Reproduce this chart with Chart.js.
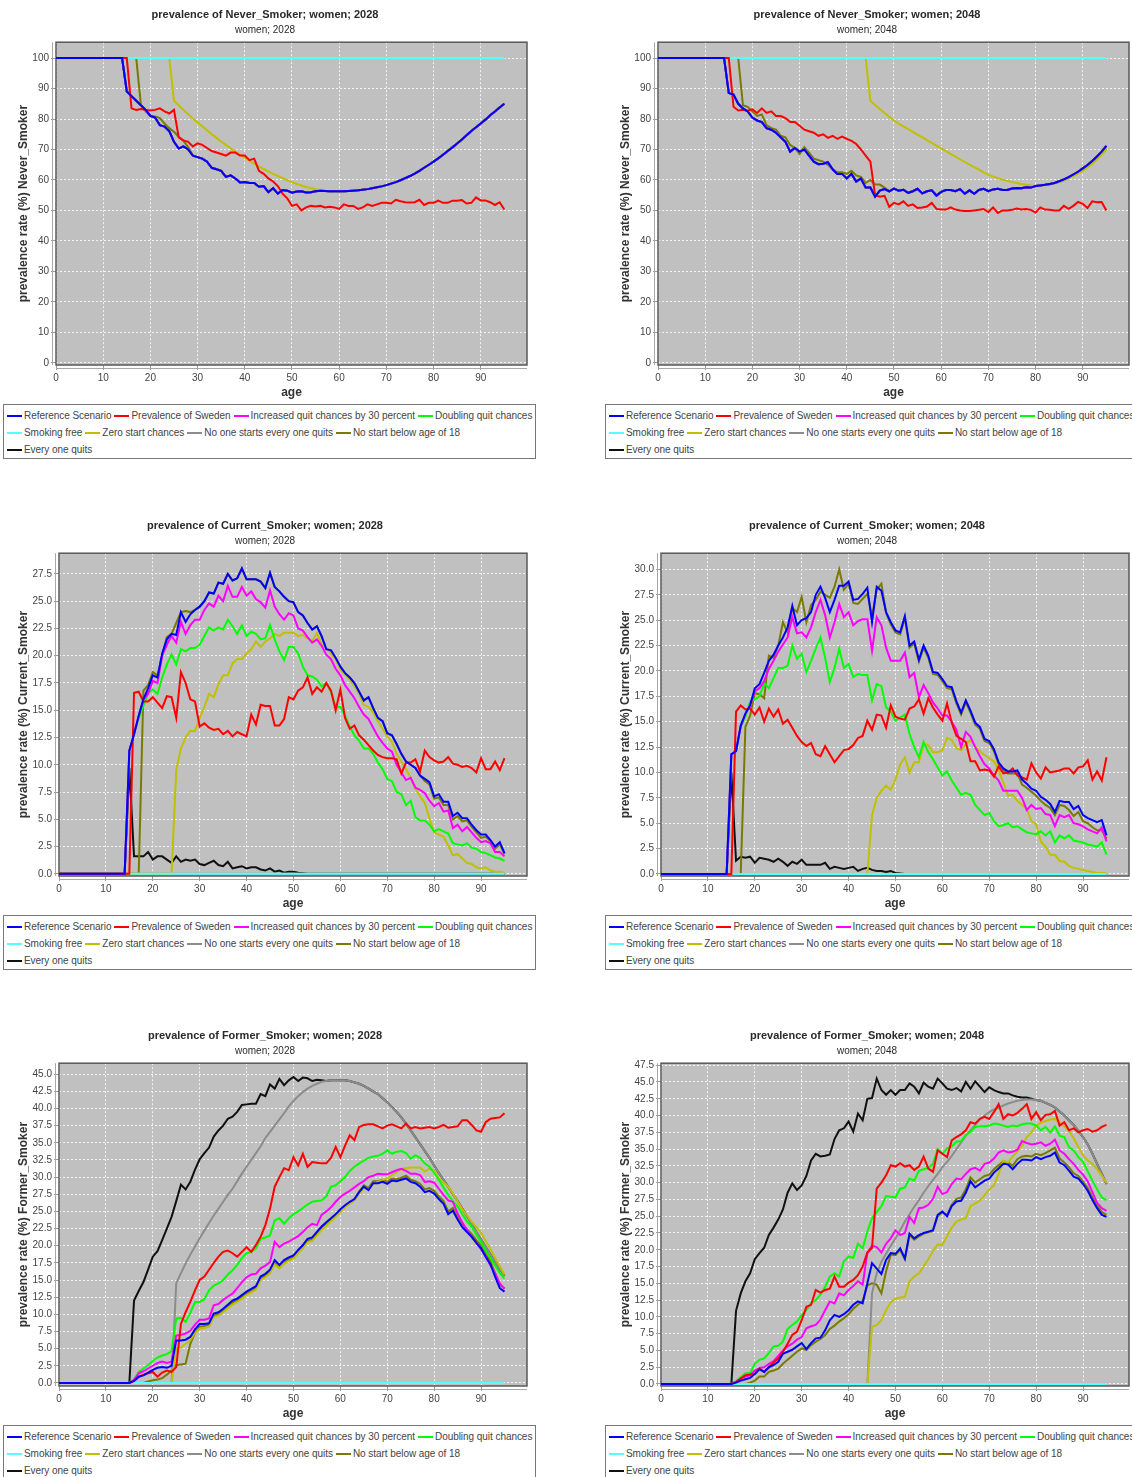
<!DOCTYPE html>
<html>
<head>
<meta charset="utf-8">
<title>Smoking prevalence scenarios, women</title>
<script src="https://cdn.jsdelivr.net/npm/chart.js@4.4.1/dist/chart.umd.min.js"></script>
<style>
  body { margin: 0; width: 1132px; height: 1477px; overflow: hidden; background: #fff; position: relative;
         font-family: "Liberation Sans", Arial, sans-serif; }
  .panel { position: absolute; width: 540px; height: 462px; }
  .panel canvas { position: absolute; left: 0; top: 0; }
  .legend { position: absolute; left: 3px; top: 404px; width: 533px; height: 55px; box-sizing: border-box;
            border: 1px solid #777; padding: 2px 0 0 3px; font-size: 10px; letter-spacing: -0.05px;
            color: #444; overflow: hidden; }
  .legend .row { height: 17px; line-height: 17px; white-space: nowrap; }
  .legend .item { display: inline-block; margin-right: 3px; }
  .legend .swatch { display: inline-block; width: 15px; height: 2px; vertical-align: middle; margin-right: 2px; }
</style>
</head>
<body>
<script>
// ---- data: one value per age 0..95 ----
const ages = [
  0,1,2,3,4,5,6,7,8,9, 10,11,12,13,14,15,16,17,18,19,
  20,21,22,23,24,25,26,27,28,29, 30,31,32,33,34,35,36,37,38,39,
  40,41,42,43,44,45,46,47,48,49, 50,51,52,53,54,55,56,57,58,59,
  60,61,62,63,64,65,66,67,68,69, 70,71,72,73,74,75,76,77,78,79,
  80,81,82,83,84,85,86,87,88,89, 90,91,92,93,94,95
];

const seriesNames = [
  'Reference Scenario', 'Prevalence of Sweden', 'Increased quit chances by 30 percent',
  'Doubling quit chances', 'Smoking free', 'Zero start chances',
  'No one starts every one quits', 'No start below age of 18', 'Every one quits'
];
const seriesColors = ['#0000ff', '#ff0000', '#ff00ff', '#00ff00', '#55ffff', '#c0c000', '#8c8c8c', '#7a7a00', '#101010'];

const xTicks = [0, 10, 20, 30, 40, 50, 60, 70, 80, 90];

const allHundred = [
  100,100,100,100,100,100,100,100,100,100, 100,100,100,100,100,100,100,100,100,100,
  100,100,100,100,100,100,100,100,100,100, 100,100,100,100,100,100,100,100,100,100,
  100,100,100,100,100,100,100,100,100,100, 100,100,100,100,100,100,100,100,100,100,
  100,100,100,100,100,100,100,100,100,100, 100,100,100,100,100,100,100,100,100,100,
  100,100,100,100,100,100,100,100,100,100, 100,100,100,100,100,100
];
const allZero = [
  0,0,0,0,0,0,0,0,0,0, 0,0,0,0,0,0,0,0,0,0, 0,0,0,0,0,0,0,0,0,0, 0,0,0,0,0,0,0,0,0,0,
  0,0,0,0,0,0,0,0,0,0, 0,0,0,0,0,0,0,0,0,0, 0,0,0,0,0,0,0,0,0,0, 0,0,0,0,0,0,0,0,0,0,
  0,0,0,0,0,0,0,0,0,0, 0,0,0,0,0,0
];

// Never smokers, 2028
const nev28Ref = [
  100,100,100,100,100,100,100,100,100,100,
  100,100,100,100,100,89,87.5,86,84.5,83,
  81,80.5,78,77.5,76,72.5,70.3,71,70,68,
  67.5,67,66,64,63.5,63,61,61.5,60.5,59.2,
  59.3,59,59,57.8,58,56,57.3,55.5,56.7,56.5,
  55.8,56.2,56.3,55.9,56,56.3,56.5,56.4,56.3,56.3,
  56.3,56.3,56.4,56.5,56.6,56.8,57,57.3,57.6,57.9,
  58.3,58.8,59.3,59.9,60.6,61.3,62.1,63,64,65,
  66,67.1,68.3,69.5,70.7,72,73.3,74.7,76.1,77.3,
  78.5,79.8,81.2,82.5,83.8,85
];
const nev28Swe = [
  100,100,100,100,100,100,100,100,100,100,
  100,100,100,100,100,100,83.5,83,83.3,83,
  82.8,83,83.5,82.5,81.8,83,74,73,72.5,71,
  72,71.5,70.5,69.5,69,68.5,68,69,69,68,
  68,66.5,67,63,62,60.5,59.5,58,55.5,54,
  51.5,52,50,51,51.5,51.3,51.5,51,51.2,51,
  50.5,52,51.5,51.5,50.5,51,52,51.5,52,52.5,
  52.5,52.3,53.5,53,52.7,52.6,52.7,53.5,51.8,52.5,
  52.5,53.2,52.5,52.5,53.2,53.2,53.4,52.3,52.5,54.3,
  53.3,53.3,52.7,51.8,52.7,50.3
];
const nev28Zero = [
  100,100,100,100,100,100,100,100,100,100,
  100,100,100,100,100,100,100,100,100,100,
  100,100,100,100,100,86,84.5,83,81.6,80.2,
  78.9,77.6,76.3,75,73.8,72.6,71.5,70.4,69.3,68.3,
  67.3,66.3,65.4,64.5,63.6,62.8,62,61.3,60.6,59.9,
  59.3,58.7,58.2,57.7,57.3,57,56.7,56.5,56.4,56.3,
  56.3,56.3,56.4,56.5,56.6,56.8,57,57.3,57.6,57.9,
  58.3,58.8,59.3,59.9,60.6,61.3,62.1,63,64,65,
  66,67.1,68.3,69.5,70.7,72,73.3,74.7,76.1,77.3,
  78.5,79.8,81.2,82.5,83.8,85
];
const nev28No18 = [
  100,100,100,100,100,100,100,100,100,100,
  100,100,100,100,100,100,100,100,84.5,82.5,
  81,80.8,80.3,78.5,77,75.8,74.2,72.8,70.8,68,
  67.5,67,66,64,63.5,63,61,61.5,60.5,59.2,
  59.3,59,59,57.8,58,56,57.3,55.5,56.7,56.5,
  55.8,56.2,56.3,55.9,56,56.3,56.5,56.4,56.3,56.3,
  56.3,56.3,56.4,56.5,56.6,56.8,57,57.3,57.6,57.9,
  58.3,58.8,59.3,59.9,60.6,61.3,62.1,63,64,65,
  66,67.1,68.3,69.5,70.7,72,73.3,74.7,76.1,77.3,
  78.5,79.8,81.2,82.5,83.8,85
];

// Never smokers, 2048
const nev48Ref = [
  100,100,100,100,100,100,100,100,100,100,
  100,100,100,100,100,88.5,88,85,83.5,82.5,
  80.5,79.5,79,77,76.5,75.5,74,72.5,69.3,70.5,
  69.3,70,68,66,65.2,65.3,65.8,63.5,62,62,
  60.5,62,59.5,60.5,57.5,57.5,54.5,56.5,57,56.3,
  57.2,56.5,56.8,55.8,56.3,57.1,55.6,56.3,56.6,54.9,
  56.1,56.7,56.7,56.3,57,55.5,56.6,55.5,56.7,57.1,
  56.3,56.9,57.1,56.7,56.7,57.2,57.4,57.3,57.6,57.5,
  58,58.2,58.4,58.7,59,59.6,60.2,60.9,61.8,62.7,
  63.8,64.9,66.2,67.7,69.3,71.2
];
const nev48Swe = [
  100,100,100,100,100,100,100,100,100,100,
  100,100,100,100,100,100,84,82.8,83,82.7,
  83.2,82,83.5,82,82.5,81,81,80.3,79,79,
  77.8,76.5,76,75.5,74.5,75,73.8,74.5,73.5,74.2,
  73.5,72.8,71.8,70,68,66,55,54.5,54.8,51.2,
  52.5,52,53,51.5,52,50.8,51,51.3,52.5,50.5,
  50.3,50.3,51,50.3,50,49.8,49.8,50,50.2,50.5,
  49.5,51,49.2,50,50,50.2,50.6,50.3,50.5,50.2,
  49.3,51,50.3,50.2,50,50,51.5,50.5,51.5,52.8,
  52.2,50.8,53,52.7,52.8,50
];
const nev48Zero = [
  100,100,100,100,100,100,100,100,100,100,
  100,100,100,100,100,100,100,100,100,100,
  100,100,100,100,100,100,100,100,100,100,
  100,100,100,100,100,100,100,100,100,100,
  100,100,100,100,100,86,84.6,83.3,82,80.7,
  79.5,78.5,77.6,76.7,75.8,74.9,74,73.1,72.2,71.3,
  70.4,69.5,68.6,67.7,66.8,65.9,65,64.2,63.4,62.5,
  61.7,61.1,60.6,60.1,59.7,59.3,59,58.7,58.4,58.2,
  58,58.1,58.3,58.6,59,59.4,59.9,60.6,61.3,62.1,
  63,64.1,65.3,66.7,68.3,70
];
const nev48No18 = [
  100,100,100,100,100,100,100,100,100,100,
  100,100,100,100,100,100,100,100,84.5,84,
  82.5,81,81.5,78,77,76.5,74.5,74,71.5,70.5,
  68.5,70.8,69,67,66.5,66,65,63.5,62.5,62.5,
  62,63,61.5,61,59,60,58.5,58.5,57.5,56.3,
  57.2,56.5,56.8,55.8,56.3,57.1,55.6,56.3,56.6,54.9,
  56.1,56.7,56.7,56.3,57,55.5,56.6,55.5,56.7,57.1,
  56.3,56.9,57.1,56.7,56.7,57.2,57.4,57.3,57.6,57.5,
  58,58.2,58.4,58.6,58.9,59.4,60,60.7,61.5,62.4,
  63.4,64.5,65.8,67.2,68.7,70.3
];

// Current smokers, 2028
const cur28Ref = [
  0,0,0,0,0,0,0,0,0,0,
  0,0,0,0,0,11.3,12.8,14.5,16,17,
  18.2,18,20.2,21.5,22,21.9,24,23.1,23.8,24.2,
  24.5,25,25.8,25.7,26.7,26.6,27.5,26.9,27.1,28,
  27,27,27,26.8,26.2,27.6,26.3,25.9,25.4,25,
  24.9,24,23.7,23,22.4,22.7,21.8,20.6,20.5,19.8,
  19,18.4,18,17.5,16.7,15.9,16.2,15.2,14.3,14,
  12.9,12.7,11.9,11,10.3,10,9.7,9,8.7,8.4,
  7.1,7.3,6.6,6.6,5.3,5.6,5.1,5.1,4.5,4,
  3.6,3.6,3.1,2.5,2.9,1.9
];
const cur28Swe = [
  0,0,0,0,0,0,0,0,0,0,
  0,0,0,0,0,0,16.6,16.7,15.8,15.8,
  16.2,15.7,15.2,16.3,16.2,14.3,18.5,17.5,16,15.8,
  13.5,13.8,13.4,13.2,13.3,12.8,13.1,12.6,13,12.8,
  12.6,14.6,13.7,15.5,15.4,15.4,13.6,13.6,14.2,16.2,
  16,16.8,17.1,18,16.5,17.1,16.7,17.5,16.8,15,
  16.9,14.3,13.3,13.6,12.7,12.3,11.8,11.3,10.9,10.7,
  10.6,10.6,10.5,9.2,10.2,10.2,10.5,9.4,11.3,10.7,
  10.4,10.2,10.3,10.7,10.1,10,9.8,9.9,9.7,9.3,
  10.6,9.6,9.6,10.3,9.5,10.6
];
const cur28Quit30 = [
  0,0,0,0,0,0,0,0,0,0,
  0,0,0,0,0,11.3,12.8,14.5,16,16.5,
  17.7,17.5,20,21,21.8,21.2,23.1,22,22.8,23.3,
  23.3,24.2,24.8,24.5,25.5,25,26.4,25.4,25.4,26.3,
  25.5,25.9,25.2,24.9,24.4,26,24.5,23.8,23.3,23.9,
  23.7,22.5,22.3,21.7,21.2,21.5,20.9,20.1,19.7,18.8,
  18.2,17.3,16.7,16.1,15.3,14.6,14.2,13.4,12.6,12,
  11.5,11.2,10,9.3,8.6,8.8,7.9,7.7,7.4,6.7,
  6.2,6.5,5.7,5.8,4.2,4.5,3.9,4.3,3.8,3.3,
  2.9,3,2.8,2,2,1.6
];
const cur28Double = [
  0,0,0,0,0,0,0,0,0,0,
  0,0,0,0,0,11.3,12.8,14.3,15.4,16.6,
  16.9,16.5,18,19.2,20.1,19.2,20.6,20.4,20.7,20.7,
  21,21.8,22.6,22.3,22.6,22.4,23.3,22.7,22,22.8,
  21.8,22.2,22,21.5,21.6,22.8,21.5,20.4,19.6,20.8,
  20.8,20.2,19,18.2,18.1,17.8,17.2,17.5,16.7,15.3,
  15.3,14.5,13.5,12.7,12.2,11.5,11.5,11,10.2,9.6,
  8.7,8.5,7.5,7.3,6.3,6.7,5.2,4.9,4.9,4.5,
  3.9,4.1,3.9,3.7,2.8,2.7,2.6,2.8,2.4,2.3,
  2,1.9,1.7,1.5,1.4,1.2
];
const cur28Zero = [
  0,0,0,0,0,0,0,0,0,0,
  0,0,0,0,0,0,0,0,0,0,
  0,0,0,0,0,9.5,11.5,12.5,13.1,13.1,
  14.3,15.3,16.5,16.2,17.4,18.2,18.2,19.3,19.7,19.7,
  20.2,20.6,21.3,20.8,21.3,21.6,22,21.8,22.1,22.1,
  22.1,21.8,21.9,21.6,21.3,22.1,21,20.7,20.2,19.7,
  18.7,18.3,17.8,17.2,16.5,15.5,15.3,14.8,14,13.3,
  12.6,12.1,11,10.3,9.6,8.8,7.8,7.1,6.5,5.1,
  3.8,3.6,3.4,2.6,1.7,1.8,1.4,1,0.9,0.6,
  0.5,0.6,0.3,0.2,0.2,0.1
];
const cur28No18 = [
  0,0,0,0,0,0,0,0,0,0,
  0,0,0,0,0,0,0,0,16.8,17.3,
  18.5,18.2,20,21.7,22,23,24,24.1,24,24.2,
  24.5,25,25.8,25.7,26.7,26.6,27.5,26.9,27.1,28,
  27,27,27,26.8,26.2,27.6,26.3,25.9,25.4,25,
  24.9,24,23.7,23,22.4,22.7,21.8,20.6,20.5,19.8,
  19,18.4,18,17.5,16.7,15.9,16.2,15.2,14.3,14,
  12.9,12.7,11.9,11,10.3,10,9.7,9,8.5,8.2,
  6.9,7,6.3,6.3,5,5.3,4.8,4.9,4.3,3.8,
  3.3,3.4,3,2.3,2.7,1.8
];
const cur28AllQuit = [
  0,0,0,0,0,0,0,0,0,0,
  0,0,0,0,0,9.7,1.6,1.6,1.6,2,
  1.3,1.6,1.6,1.3,1,1.6,1.1,1.3,1.2,1.3,
  0.9,0.8,1,1.2,0.8,0.7,1.1,0.5,0.6,0.7,
  0.5,0.6,0.6,0.4,0.3,0.5,0.2,0.3,0.1,0.2,
  0.2,0.1,0.05,0,0,0,0,0,0,0,
  0,0,0,0,0,0,0,0,0,0,
  0,0,0,0,0,0,0,0,0,0,
  0,0,0,0,0,0,0,0,0,0,
  0,0,0,0,0,0
];

// Current smokers, 2048
const cur48Ref = [
  0,0,0,0,0,0,0,0,0,0,
  0,0,0,0,0,11.8,12.1,14.6,15.8,16.6,
  18.3,18.7,19.8,21,21.6,22.5,23.3,24.3,26.4,24.5,
  25,25.2,25.8,27.5,28.3,27.2,25.8,27,28.4,28.4,
  28.8,27,27.1,27.6,28.2,24.8,28.3,27.9,25.8,24.8,
  24,23.8,25.4,22.5,22.9,21.1,22.5,21.5,19.9,19.8,
  19.2,18.5,18.4,17,15.9,17.1,16.1,14.9,14.5,13.3,
  13.1,12.3,11,10.4,10.1,10.1,10.2,9.3,8.9,8.4,
  8.2,7.6,7.3,6.9,6.1,7.2,7.1,7.1,6.4,6.7,
  5.8,5.5,5.3,5.1,5.3,3.8
];
const cur48Swe = [
  0,0,0,0,0,0,0,0,0,0,
  0,0,0,0,0,0,16,16.6,16.2,16.3,
  15.7,16.4,15,16.3,15.5,16.2,14.8,15.2,14.4,13.6,
  13,12.6,12.9,11.8,11.6,12.6,11.8,11,11.6,12.2,
  12.3,12.7,13.4,13.6,15.1,14.2,15.7,15.6,14.4,16.6,
  15.5,15.3,15.2,16.3,16.5,17.2,15.8,17.3,16.4,15.7,
  15.1,16.8,14.9,13.6,13.3,13,11.1,11.1,10.2,10.3,
  10.2,9.6,10.6,9.9,10,10.4,9.7,9.5,9.3,10.9,
  10,9.4,10.5,10,10.1,10.2,10.4,10.4,9.9,10.5,
  10.6,11.2,9.3,10.1,9.2,11.5
];
const cur48Quit30 = [
  0,0,0,0,0,0,0,0,0,0,
  0,0,0,0,0,11.8,12.1,14.6,15.8,16.6,
  18,18.3,19,20.2,21,21.9,22.6,23.3,25.3,23.7,
  23.8,23.3,24.3,25.8,27,25.5,23.3,24.8,26.6,25.3,
  25.8,24.5,24.9,25.1,25.1,22,25.3,24.5,22.3,21,
  21,21,21.8,19.4,19.8,17.4,18.6,17.8,16.9,16.3,
  15.6,15.6,15,14.2,12.5,14,13.5,12.5,11.6,10.8,
  10.4,9.7,9.2,8.2,8.2,8.2,8.2,7.5,6.3,6.8,
  6.4,6.5,5.9,5.8,4.7,5.8,5.6,5.8,5,4.9,
  4.7,4.4,4.2,4,4.6,3.2
];
const cur48Double = [
  0,0,0,0,0,0,0,0,0,0,
  0,0,0,0,0,11.8,12.1,14.5,15.5,17,
  17.2,17.5,18.8,18.3,19.3,20.3,20.3,20.5,22.5,21.2,
  21.7,19.9,21,22.2,23.3,21.3,18.9,20.3,22.2,20.3,
  20.7,19.4,19.7,19.6,19.6,17.1,18.7,18.5,16.4,16,
  15.1,15.4,15.7,13.8,12.5,11.5,13,12,11.3,10.5,
  9.7,10.1,9.2,8.5,7.8,8,7.8,6.8,6.3,5.8,
  6,5.2,4.7,4.8,5,4.6,4.7,4.4,4.1,4,
  3.9,4.2,3.8,4.2,3.1,3.8,3.5,3.8,3.3,3.2,
  3.1,2.9,2.8,2.7,3.1,1.9
];
const cur48Zero = [
  0,0,0,0,0,0,0,0,0,0,
  0,0,0,0,0,0,0,0,0,0,
  0,0,0,0,0,0,0,0,0,0,
  0,0,0,0,0,0,0,0,0,0,
  0,0,0,0,0,5.8,7.5,8.2,8.7,8.3,
  9.3,10.8,11.5,10,11,11,12.8,12.7,12,12,
  12.2,13.4,13.2,12.4,12.2,12.8,13.2,12.6,12.1,11.7,
  11.4,11.1,10.2,9,7.7,7.8,7.2,6.8,6.4,5.2,
  4.9,3.2,2.7,1.9,1.9,1.3,1.2,0.8,0.6,0.5,
  0.4,0.3,0.2,0.1,0.1,0.05
];
const cur48No18 = [
  0,0,0,0,0,0,0,0,0,0,
  0,0,0,0,0,0,0,0,14.5,15.6,
  17.8,17.7,17.3,21.5,21.3,22.5,24.8,23.8,26.2,25.8,
  27.3,24.8,26.5,27,27.8,27.5,27.2,28.3,30,28,
  28.6,26.7,26.6,27.1,27.6,25.4,28,28.6,25.7,24.6,
  23.8,23.6,25.2,22.3,22.7,20.9,22.3,21.3,19.7,19.6,
  19,18.3,18.2,16.8,15.7,16.9,15.9,14.7,14.3,13.1,
  12.9,12.1,10.8,10.2,9.9,9.9,9.9,8.8,8.5,8.1,
  7.7,7.2,6.8,6.5,5.8,6.8,6.7,6.3,5.7,6.1,
  5.2,5,4.6,4.3,4.3,3.5
];
const cur48AllQuit = [
  0,0,0,0,0,0,0,0,0,0,
  0,0,0,0,0,10,1.3,1.7,1.6,1.7,
  1.1,1.6,1.5,1.4,1.2,1.5,1.2,0.8,1.2,1,
  1.4,0.9,0.9,0.9,0.9,1.1,0.5,0.7,0.6,0.5,
  0.6,0.7,0.3,0.5,0.6,0.4,0.3,0.3,0.2,0.3,
  0.1,0.05,0,0,0,0,0,0,0,0,
  0,0,0,0,0,0,0,0,0,0,
  0,0,0,0,0,0,0,0,0,0,
  0,0,0,0,0,0,0,0,0,0,
  0,0,0,0,0,0
];

// Former smokers, 2028
const for28Ref = [
  0,0,0,0,0,0,0,0,0,0,
  0,0,0,0,0,0,0.3,0.9,1.1,1.5,
  1.9,2.2,2.3,2.2,2.5,6.2,6.2,6.3,6.7,7.8,
  8.6,8.6,8.7,10.1,10.3,10.8,11.4,12,12.3,12.8,
  13.3,13.7,14.1,15.5,15.9,16.5,17.9,17.2,17.9,18.3,
  18.6,19.4,20.1,21,21.2,22,22.8,23.4,24,24.6,
  25.3,25.9,26.4,26.8,27.8,28.6,28.1,29.1,29.1,29.3,
  29,29.5,29.4,29.6,29.8,29.3,29.1,28.6,27.8,28,
  27.6,26.8,26.1,24.6,25.1,23.8,22.7,22,21.3,20.4,
  19.6,18.4,17.3,15.5,13.8,13.3
];
const for28Swe = [
  0,0,0,0,0,0,0,0,0,0,
  0,0,0,0,0,0,0.3,0.9,1.2,1.4,
  1.6,0.9,1.5,1.8,1.6,2.3,8.6,10.3,11.8,13.5,
  15,15.5,16.5,17.5,18.4,19.1,19.3,18.9,18.4,19.1,
  19.8,19.1,20.1,21.3,23,25.4,28.6,30,31.3,31,
  32.9,31.7,33.4,31.5,32.2,32.1,32,32,32.8,34.4,
  32.9,34.6,36.1,35.4,37.3,37.6,37.7,37.7,37.4,37.1,
  37.5,37.7,37.4,37.1,37.8,37.1,37.3,37.1,37.2,37.3,
  37.1,37.3,37.6,37.2,37.3,37.4,38.3,38.3,37.6,36.8,
  36.6,38,38.5,38.6,38.7,39.3
];
const for28Quit30 = [
  0,0,0,0,0,0,0,0,0,0,
  0,0,0,0,0,0,0.4,1.4,1.7,2.1,
  2.5,2.9,3.1,2.9,3.1,6.9,7,7.2,7.6,8.5,
  9.2,9.2,9.4,11.3,11.5,12.1,12.6,13,13.8,14.7,
  15.4,15.8,15.9,16.7,17.1,17.6,20.6,19.8,20.3,20.6,
  21,21.4,22,22.7,23.2,23,24.5,25,25.6,26.4,
  27.1,27.6,28,28.5,29,29.4,30,30.2,30.5,30.4,
  30.4,30.7,31,31.2,30.9,30.5,30.5,30.3,29.3,29.4,
  29.2,28.3,27.4,26.6,26.4,24.7,23.4,22.3,21.3,20.4,
  19.5,18.4,17.1,16,14.5,13.7
];
const for28Double = [
  0,0,0,0,0,0,0,0,0,0,
  0,0,0,0,0,0,0.5,1.6,2.1,2.6,
  3.2,3.7,4,4.2,4.6,9.4,9.5,8.9,10.2,11.8,
  11.8,12.2,13.5,14.2,14.5,15,15.8,16.4,17.2,18.2,
  18.9,19.1,19.6,21,21.2,21.5,23.7,24,23.2,24,
  24.6,25,25.5,26,26.4,26.5,26.6,27.2,28.6,28.8,
  29.4,30,30.9,31.5,32,32.4,32.8,33,33.1,33.4,
  33.9,33.4,33.7,33.8,33.5,32.7,33.2,32.8,32,31.5,
  30.6,29.6,28.5,27.4,26.5,25.7,24.6,23.5,22.8,21.6,
  20.5,19.3,18.2,17.1,16,15.2
];
const for28Zero = [
  0,0,0,0,0,0,0,0,0,0,
  0,0,0,0,0,0,0,0,0,0,
  0,0,0,0,0,5,5.2,5.7,6.2,7.3,
  7.9,8,8.2,9.6,9.8,10.3,10.9,11.4,11.8,12.3,
  12.8,13.2,13.6,15,15.4,16,17.3,16.7,17.4,17.8,
  18.1,18.9,19.6,20.5,20.7,21.5,22.3,22.9,23.6,24.2,
  24.9,25.6,26.2,26.7,27.6,28.4,28.2,29,29.3,29.6,
  29.8,30.3,30.7,31.2,31.3,31.4,31.4,31.4,30.8,31.2,
  31,29.8,29.2,28.6,27.6,26.4,25.3,24.4,23.5,22.7,
  21.9,20.7,19.5,18.2,17,15.8
];
const for28NoStart = [
  0,0,0,0,0,0,0,0,0,0,
  0,0,0,0,0,0,0,0,0,0,
  0,0,0,0,0,14.5,16,17.4,18.7,19.9,
  21.1,22.2,23.3,24.4,25.4,26.4,27.4,28.3,29.4,30.5,
  31.5,32.5,33.5,34.5,35.7,36.6,37.5,38.4,39.3,40.3,
  41.1,41.8,42.4,42.9,43.3,43.6,43.9,44,44.1,44.1,
  44.1,44.1,44,43.8,43.6,43.3,42.9,42.5,42.1,41.5,
  40.9,40.2,39.5,38.7,37.8,36.8,35.8,34.8,33.8,32.8,
  31.7,30.6,29.6,28.6,27.5,26.5,25.4,24.3,23.2,22,
  20.9,19.8,18.7,17.6,16.6,15.6
];
const for28No18 = [
  0,0,0,0,0,0,0,0,0,0,
  0,0,0,0,0,0,0,0,0,0.2,
  0.4,0.5,0.7,1.2,1.8,2.6,2.7,2.8,5.7,7.3,
  8.2,8.3,8.5,9.8,10,10.5,11.1,11.7,12,12.5,
  13,13.4,13.8,15.2,15.6,16.2,17.5,16.9,17.6,18,
  18.4,19.2,19.8,20.7,21,21.8,22.6,23.2,23.8,24.4,
  25.1,25.7,26.2,26.7,27.9,28.8,28.4,29.4,29.4,29.6,
  29.3,29.8,29.7,29.9,30.2,29.6,29.4,29,28.2,28.4,
  28,27.2,26.5,25,25.5,24.2,23.1,22.4,21.7,20.8,
  20,18.8,17.7,16,14.3,13.8
];
const for28AllQuit = [
  0,0,0,0,0,0,0,0,0,0,
  0,0,0,0,0,0,12,13.4,14.7,16.5,
  18.4,19.2,20.8,22.5,24.2,26.5,28.9,28.2,29.3,31.1,
  32.6,33.5,34.3,35.9,36.8,37.5,38.5,38.8,39.5,40.5,
  40.6,40.7,40.7,42.1,41.8,43.5,42.9,44.3,43.4,44.1,
  44.6,44,44.5,44.4,44,44.2,44.1,44,44.1,44.1,
  44.1,44.1,44,43.8,43.6,43.3,42.9,42.5,42.1,41.5,
  40.9,40.2,39.5,38.7,37.8,36.8,35.8,34.8,33.8,32.8,
  31.7,30.6,29.6,28.6,27.5,26.5,25.4,24.3,23.2,22,
  20.9,19.8,18.7,17.6,16.6,15.6
];

// Former smokers, 2048
const for48Ref = [
  0,0,0,0,0,0,0,0,0,0,
  0,0,0,0,0,0,0.2,0.5,0.7,0.9,
  1.5,2.2,1.8,2.5,2.8,3.3,4.5,4.8,5.1,5.6,
  6.1,5.2,6.1,6.8,6.9,8,9.5,10.3,10,10.4,
  11,11.8,12.3,12,15,18,17.2,16.4,18.5,19.5,
  19.4,20.2,18.7,22.4,21.7,22.2,22.5,22.7,22.9,25.2,
  25.7,25,26.5,27.2,27.3,28.5,30.2,29.3,29.8,30.3,
  30.6,31.5,32.1,32.8,32.7,32,32.8,33.4,33.4,33.3,
  33.8,33.5,33.8,34,34.5,33,32.6,31.8,30.9,30.6,
  29.8,28.8,27.4,26.2,25.2,24.9
];
const for48Swe = [
  0,0,0,0,0,0,0,0,0,0,
  0,0,0,0,0,0,0.3,0.8,1.3,1.4,
  1.5,2.3,1.8,2.5,3.2,3.8,4.8,6,7.3,7.8,
  9.5,11.5,11.8,14,13.6,14,14.2,16,14.5,14.5,
  15.1,15.5,16.2,17.5,19.6,20.3,29.1,30,31.1,32.6,
  32.4,32.9,32.4,32.6,31.9,32.4,33.9,32.1,31.6,34.8,
  34.3,33.8,36.3,36.8,37.2,37.8,39,38.8,39.5,39.8,
  39.5,40.5,41.7,39.5,40.2,40,40.4,41,41.7,39.5,
  40.5,39.3,40.1,40.2,40.7,38.5,39,37.8,38.1,37.5,
  37.8,38,37.6,37.8,38.3,38.6
];
const for48Quit30 = [
  0,0,0,0,0,0,0,0,0,0,
  0,0,0,0,0,0,0.3,0.8,1.1,1.3,
  2,2.4,2.5,3,3.4,4.2,5,5.6,6,6.6,
  7,8.3,8.6,8.8,9.6,11,12.3,12,13.5,13.2,
  14,14.6,15.3,14.8,19.5,20.6,20.4,19.6,20.9,21.7,
  22.9,22.2,22.5,24.9,24,26.2,26.3,26.7,27.6,29.4,
  28.3,28.6,29.8,30.6,30.5,31.3,32,32.2,31.8,32.8,
  33,33.6,34.5,34.8,34.5,34.6,34.9,36.2,35.9,35.7,
  35.8,36,35.5,35.8,36.4,34.8,34.3,33.5,32.8,31.9,
  31.2,30.2,28.6,27,26.2,25.8
];
const for48Double = [
  0,0,0,0,0,0,0,0,0,0,
  0,0,0,0,0,0,0.4,1,1.6,1.6,
  3,3.6,3.8,4.6,5.6,5.7,6.3,8.2,8.8,9.3,
  10.3,11,12,12.5,13.3,14.5,16,16.5,16,18.3,
  19,18.8,20.9,20.2,22.7,24.7,25.6,26.5,28,27.9,
  27.8,29.1,29.3,30.6,30.3,31.8,32,32.2,32.8,35,
  34.3,35.1,35.4,36.1,36.2,37.1,37.6,38.3,38.4,38.4,
  38.5,38.8,38.7,38.5,38.3,38.5,38.4,38.7,38.8,38.8,
  38.5,37.8,38.3,37.5,38.4,37,36.8,35.3,34.8,33.8,
  33.1,31.7,30.3,29,27.8,27.4
];
const for48Zero = [
  0,0,0,0,0,0,0,0,0,0,
  0,0,0,0,0,0,0,0,0,0,
  0,0,0,0,0,0,0,0,0,0,
  0,0,0,0,0,0,0,0,0,0,
  0,0,0,0,0,8.5,8.8,9.5,11,12.2,
  12.7,12.9,13,15.3,16,16.5,17.5,18.6,19.8,20.8,
  20.7,22,23.3,24.2,24.5,24.7,26.5,26.9,27.3,28.1,
  29,29.6,31.3,33.3,33,33.9,34.7,35.5,36.8,37.5,
  38.5,38.9,39.2,39.4,39.5,38.9,38.4,37.7,36.6,35.3,
  34.1,33.3,32.8,32,31,30
];
const for48NoStart = [
  0,0,0,0,0,0,0,0,0,0,
  0,0,0,0,0,0,0,0,0,0,
  0,0,0,0,0,0,0,0,0,0,
  0,0,0,0,0,0,0,0,0,0,
  0,0,0,0,0,13.5,16.5,18.2,19.4,20.6,
  21.7,22.9,24.2,25.3,26.4,27.4,28.5,29.5,30.4,31.3,
  32.3,33.1,34,35,36,37,37.8,38.6,39.4,40,
  40.5,40.9,41.2,41.5,41.8,42,42.2,42.3,42.4,42.4,
  42.3,42.2,41.9,41.6,41.2,40.6,40,39.3,38.6,37.7,
  36.8,35.7,34.3,32.8,31.3,29.8
];
const for48No18 = [
  0,0,0,0,0,0,0,0,0,0,
  0,0,0,0,0,0,0,0,0,0.2,
  0.5,1.1,1.1,1.8,2,2.3,3,3.6,4.2,4.8,
  5.3,5.1,5.8,6.3,6.7,7.3,8.2,8.7,9.3,9.8,
  10.4,11.2,11.8,12.4,14.7,15,14.8,13.5,16.8,19.3,
  19.2,20,18.6,22.2,21.5,22,22.4,22.6,22.8,25,
  25.6,25.2,26.7,27.6,27.8,29,30.8,30,30.5,31,
  31.2,32,32.6,33.2,33,32.5,33.5,33.9,34,33.9,
  34.3,34.1,34.4,34.8,35.2,33.6,33,32.3,31.4,31,
  30.2,29.2,27.8,26.6,25.6,25.2
];
const for48AllQuit = [
  0,0,0,0,0,0,0,0,0,0,
  0,0,0,0,0,0,10.9,13.5,15.3,16.5,
  18.6,19.5,20.3,22.2,23.3,24.5,26,28.5,29.9,28.9,
  29.6,31,33.3,34.3,33.9,34,34.2,36.5,37.8,38.1,
  39.1,37.6,40.3,39.3,42.5,42.6,45.5,43.8,43.1,43.8,
  43.1,43.8,43.8,44.8,44.3,43.3,44.9,44.3,44,45.5,
  44.8,44,43.8,44.1,43.6,45,44,45.1,44.3,43.5,
  44.2,43.8,43.5,43.3,43.3,43,42.8,42.7,42.7,42.5,
  42.3,42.2,41.9,41.6,41.2,40.6,40,39.3,38.6,37.7,
  36.8,35.7,34.3,32.8,31.3,29.8
];

// ---- chart setup ----
Chart.defaults.font.family = '"Liberation Sans", Arial, sans-serif';
Chart.defaults.color = '#444';

const legendRows = [[0, 1, 2, 3], [4, 5, 6, 7], [8]];

const panels = [
  { left: 0, top: 0, year: 2028, state: 'Never_Smoker', yMin: -0.7, yMax: 105.2, step: 10, digits: 0, axisWidth: 53,
    series: [nev28Ref, nev28Swe, nev28Ref, nev28Ref, allHundred, nev28Zero, allHundred, nev28No18, nev28Ref] },
  { left: 602, top: 0, year: 2048, state: 'Never_Smoker', yMin: -0.7, yMax: 105.2, step: 10, digits: 0, axisWidth: 53,
    series: [nev48Ref, nev48Swe, nev48Ref, nev48Ref, allHundred, nev48Zero, allHundred, nev48No18, nev48Ref] },
  { left: 0, top: 511, year: 2028, state: 'Current_Smoker', yMin: -0.2, yMax: 29.4, step: 2.5, digits: 1, axisWidth: 56,
    series: [cur28Ref, cur28Swe, cur28Quit30, cur28Double, allZero, cur28Zero, allZero, cur28No18, cur28AllQuit] },
  { left: 602, top: 511, year: 2048, state: 'Current_Smoker', yMin: -0.2, yMax: 31.6, step: 2.5, digits: 1, axisWidth: 56,
    series: [cur48Ref, cur48Swe, cur48Quit30, cur48Double, allZero, cur48Zero, allZero, cur48No18, cur48AllQuit] },
  { left: 0, top: 1021, year: 2028, state: 'Former_Smoker', yMin: -0.45, yMax: 46.6, step: 2.5, digits: 1, axisWidth: 56,
    series: [for28Ref, for28Swe, for28Quit30, for28Double, allZero, for28Zero, for28NoStart, for28No18, for28AllQuit] },
  { left: 602, top: 1021, year: 2048, state: 'Former_Smoker', yMin: -0.3, yMax: 47.8, step: 2.5, digits: 1, axisWidth: 56,
    series: [for48Ref, for48Swe, for48Quit30, for48Double, allZero, for48Zero, for48NoStart, for48No18, for48AllQuit] }
];

// grey plot background, dark outline and the offset axis lines
const plotFrame = {
  id: 'plotFrame',
  beforeDraw(chart) {
    const { ctx, chartArea: a } = chart;
    ctx.save();
    ctx.fillStyle = '#c0c0c0';
    ctx.fillRect(a.left, a.top, a.right - a.left, a.bottom - a.top);
    ctx.restore();
  },
  beforeDatasetsDraw(chart) {
    const { ctx, chartArea: a } = chart;
    ctx.save();
    ctx.strokeStyle = '#5a5a5a';
    ctx.lineWidth = 1.5;
    ctx.strokeRect(a.left, a.top, a.right - a.left, a.bottom - a.top);
    ctx.strokeStyle = '#a8a8a8';
    ctx.lineWidth = 1;
    ctx.beginPath();
    ctx.moveTo(a.left - 3.5, a.top);
    ctx.lineTo(a.left - 3.5, a.bottom);
    ctx.moveTo(a.left, a.bottom + 3.5);
    ctx.lineTo(a.right, a.bottom + 3.5);
    ctx.stroke();
    ctx.restore();
  }
};

function buildLegend(box) {
  legendRows.forEach(row => {
    const line = document.createElement('div');
    line.className = 'row';
    row.forEach(i => {
      const item = document.createElement('span');
      item.className = 'item';
      const swatch = document.createElement('span');
      swatch.className = 'swatch';
      swatch.style.background = seriesColors[i];
      item.appendChild(swatch);
      item.appendChild(document.createTextNode(seriesNames[i]));
      line.appendChild(item);
    });
    box.appendChild(line);
  });
}

panels.forEach(p => {
  const wrap = document.createElement('div');
  wrap.className = 'panel';
  wrap.style.left = p.left + 'px';
  wrap.style.top = p.top + 'px';
  const canvas = document.createElement('canvas');
  canvas.width = 540;
  canvas.height = 402;
  wrap.appendChild(canvas);
  const legend = document.createElement('div');
  legend.className = 'legend';
  buildLegend(legend);
  wrap.appendChild(legend);
  document.body.appendChild(wrap);

  new Chart(canvas, {
    type: 'line',
    data: {
      datasets: p.series.map((vals, i) => ({
        label: seriesNames[i],
        data: vals.map((v, k) => ({ x: ages[k], y: v })),
        borderColor: seriesColors[i],
        backgroundColor: seriesColors[i],
        borderWidth: 2,
        pointRadius: 0,
        tension: 0,
        fill: false
      }))
    },
    options: {
      responsive: false,
      animation: false,
      devicePixelRatio: 1,
      layout: { padding: { left: 3, right: 13, top: 0, bottom: 0 } },
      plugins: {
        legend: { display: false },
        tooltip: { enabled: false },
        title: {
          display: true,
          text: 'prevalence of ' + p.state + '; women; ' + p.year,
          color: '#2a2a2a',
          font: { size: 11, weight: 'bold' },
          padding: { top: 8, bottom: 1 }
        },
        subtitle: {
          display: true,
          text: 'women; ' + p.year,
          color: '#2a2a2a',
          font: { size: 10 },
          padding: { top: 2, bottom: 6 }
        }
      },
      scales: {
        x: {
          type: 'linear',
          min: 0,
          max: 99.8,
          afterBuildTicks: s => { s.ticks = xTicks.map(v => ({ value: v })); },
          ticks: { color: '#444', font: { size: 10 }, padding: 2, maxRotation: 0, autoSkip: false },
          grid: { color: '#f2f2f2', lineWidth: 1, tickColor: '#999', tickLength: 5 },
          border: { display: false, dash: [2, 2] },
          title: { display: true, text: 'age', color: '#333', font: { size: 12, weight: 'bold' }, padding: { top: 2, bottom: 2 } },
          afterFit: s => { s.height = 37; }
        },
        y: {
          min: p.yMin,
          max: p.yMax,
          ticks: {
            stepSize: p.step,
            includeBounds: false,
            color: '#444',
            font: { size: 10 },
            padding: 2,
            callback: v => v.toFixed(p.digits)
          },
          grid: { color: '#f2f2f2', lineWidth: 1, tickColor: '#999', tickLength: 5 },
          border: { display: false, dash: [2, 2] },
          title: {
            display: true,
            text: 'prevalence rate (%) ' + p.state,
            color: '#333',
            font: { size: 12, weight: 'bold' },
            padding: { top: 13, bottom: 0 }
          },
          afterFit: s => { s.width = p.axisWidth; }
        }
      }
    },
    plugins: [plotFrame]
  });
});
</script>
</body>
</html>
